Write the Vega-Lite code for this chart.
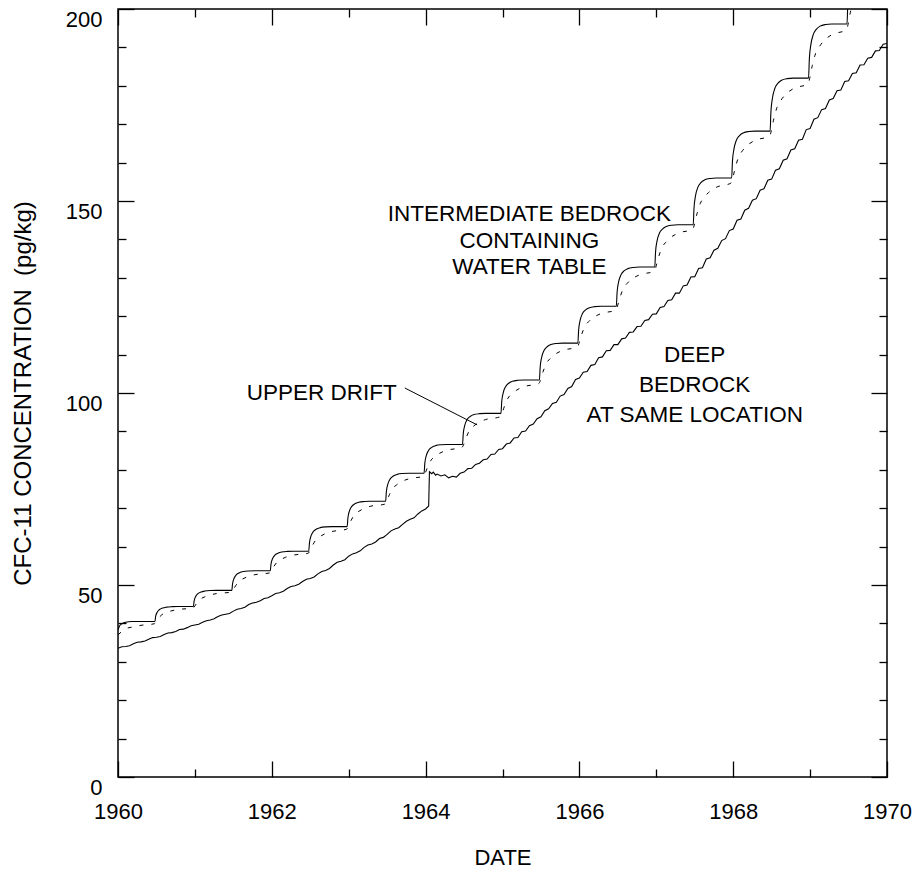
{
  "$schema": "https://vega.github.io/schema/vega-lite/v6.json",
  "width": 769,
  "height": 768,
  "autosize": {"type": "none"},
  "padding": {"left": 118, "top": 9, "right": 26, "bottom": 92},
  "background": "white",
  "config": {
    "view": {"stroke": "black", "strokeWidth": 1.5},
    "axis": {
      "labelFont": "Liberation Sans",
      "titleFont": "Liberation Sans",
      "labelFontSize": 22,
      "titleFontSize": 23,
      "labelColor": "black",
      "titleColor": "black",
      "titleFontWeight": "normal",
      "grid": false,
      "domain": false,
      "tickColor": "black",
      "tickWidth": 1.3,
      "labelOverlap": false
    },
    "text": {"font": "Liberation Sans", "fontSize": 22.5, "color": "black"}
  },
  "datasets": {
    "upper": [
      {"year": 1960.0, "value": 38.3}, {"year": 1960.02, "value": 39.3}, {"year": 1960.05, "value": 39.9}, {"year": 1960.1, "value": 40.3}, {"year": 1960.18, "value": 40.5}, {"year": 1960.48, "value": 40.5},
      {"year": 1960.49, "value": 41.87}, {"year": 1960.51, "value": 42.92}, {"year": 1960.54, "value": 43.62}, {"year": 1960.58, "value": 44.01}, {"year": 1960.63, "value": 44.24}, {"year": 1960.7, "value": 44.36}, {"year": 1960.78, "value": 44.4}, {"year": 1960.98, "value": 44.4},
      {"year": 1960.99, "value": 45.87}, {"year": 1961.01, "value": 47.0}, {"year": 1961.04, "value": 47.76}, {"year": 1961.08, "value": 48.18}, {"year": 1961.13, "value": 48.43}, {"year": 1961.2, "value": 48.56}, {"year": 1961.28, "value": 48.6}, {"year": 1961.48, "value": 48.6},
      {"year": 1961.49, "value": 50.39}, {"year": 1961.51, "value": 51.76}, {"year": 1961.54, "value": 52.68}, {"year": 1961.58, "value": 53.19}, {"year": 1961.63, "value": 53.5}, {"year": 1961.7, "value": 53.65}, {"year": 1961.78, "value": 53.7}, {"year": 1961.98, "value": 53.7},
      {"year": 1961.99, "value": 55.49}, {"year": 1962.01, "value": 56.86}, {"year": 1962.04, "value": 57.78}, {"year": 1962.08, "value": 58.29}, {"year": 1962.13, "value": 58.6}, {"year": 1962.2, "value": 58.75}, {"year": 1962.28, "value": 58.8}, {"year": 1962.48, "value": 58.8},
      {"year": 1962.49, "value": 61.04}, {"year": 1962.51, "value": 62.77}, {"year": 1962.54, "value": 63.92}, {"year": 1962.58, "value": 64.56}, {"year": 1962.63, "value": 64.94}, {"year": 1962.7, "value": 65.14}, {"year": 1962.78, "value": 65.2}, {"year": 1962.98, "value": 65.2},
      {"year": 1962.99, "value": 67.51}, {"year": 1963.01, "value": 69.29}, {"year": 1963.04, "value": 70.48}, {"year": 1963.08, "value": 71.14}, {"year": 1963.13, "value": 71.54}, {"year": 1963.2, "value": 71.73}, {"year": 1963.28, "value": 71.8}, {"year": 1963.48, "value": 71.8},
      {"year": 1963.49, "value": 74.36}, {"year": 1963.51, "value": 76.33}, {"year": 1963.54, "value": 77.64}, {"year": 1963.58, "value": 78.37}, {"year": 1963.63, "value": 78.81}, {"year": 1963.7, "value": 79.03}, {"year": 1963.78, "value": 79.1}, {"year": 1963.98, "value": 79.1},
      {"year": 1963.99, "value": 81.73}, {"year": 1964.01, "value": 83.75}, {"year": 1964.04, "value": 85.1}, {"year": 1964.08, "value": 85.85}, {"year": 1964.13, "value": 86.3}, {"year": 1964.2, "value": 86.53}, {"year": 1964.28, "value": 86.6}, {"year": 1964.48, "value": 86.6},
      {"year": 1964.49, "value": 89.44}, {"year": 1964.51, "value": 91.62}, {"year": 1964.54, "value": 93.08}, {"year": 1964.58, "value": 93.89}, {"year": 1964.63, "value": 94.38}, {"year": 1964.7, "value": 94.62}, {"year": 1964.78, "value": 94.7}, {"year": 1964.98, "value": 94.7},
      {"year": 1964.99, "value": 97.75}, {"year": 1965.01, "value": 100.09}, {"year": 1965.04, "value": 101.66}, {"year": 1965.08, "value": 102.53}, {"year": 1965.13, "value": 103.05}, {"year": 1965.2, "value": 103.31}, {"year": 1965.28, "value": 103.4}, {"year": 1965.48, "value": 103.4},
      {"year": 1965.49, "value": 106.76}, {"year": 1965.51, "value": 109.35}, {"year": 1965.54, "value": 111.08}, {"year": 1965.58, "value": 112.04}, {"year": 1965.63, "value": 112.62}, {"year": 1965.7, "value": 112.9}, {"year": 1965.78, "value": 113.0}, {"year": 1965.98, "value": 113.0},
      {"year": 1965.99, "value": 116.36}, {"year": 1966.01, "value": 118.95}, {"year": 1966.04, "value": 120.68}, {"year": 1966.08, "value": 121.64}, {"year": 1966.13, "value": 122.22}, {"year": 1966.2, "value": 122.5}, {"year": 1966.28, "value": 122.6}, {"year": 1966.48, "value": 122.6},
      {"year": 1966.49, "value": 126.17}, {"year": 1966.51, "value": 128.92}, {"year": 1966.54, "value": 130.76}, {"year": 1966.58, "value": 131.78}, {"year": 1966.63, "value": 132.39}, {"year": 1966.7, "value": 132.7}, {"year": 1966.78, "value": 132.8}, {"year": 1966.98, "value": 132.8},
      {"year": 1966.99, "value": 136.65}, {"year": 1967.01, "value": 139.62}, {"year": 1967.04, "value": 141.6}, {"year": 1967.08, "value": 142.7}, {"year": 1967.13, "value": 143.36}, {"year": 1967.2, "value": 143.69}, {"year": 1967.28, "value": 143.8}, {"year": 1967.48, "value": 143.8},
      {"year": 1967.49, "value": 148.07}, {"year": 1967.51, "value": 151.36}, {"year": 1967.54, "value": 153.56}, {"year": 1967.58, "value": 154.78}, {"year": 1967.63, "value": 155.51}, {"year": 1967.7, "value": 155.88}, {"year": 1967.78, "value": 156.0}, {"year": 1967.98, "value": 156.0},
      {"year": 1967.99, "value": 160.27}, {"year": 1968.01, "value": 163.56}, {"year": 1968.04, "value": 165.76}, {"year": 1968.08, "value": 166.98}, {"year": 1968.13, "value": 167.71}, {"year": 1968.2, "value": 168.08}, {"year": 1968.28, "value": 168.2}, {"year": 1968.48, "value": 168.2},
      {"year": 1968.49, "value": 173.03}, {"year": 1968.51, "value": 176.76}, {"year": 1968.54, "value": 179.24}, {"year": 1968.58, "value": 180.62}, {"year": 1968.63, "value": 181.45}, {"year": 1968.7, "value": 181.86}, {"year": 1968.78, "value": 182.0}, {"year": 1968.98, "value": 182.0},
      {"year": 1968.99, "value": 186.94}, {"year": 1969.01, "value": 190.74}, {"year": 1969.04, "value": 193.28}, {"year": 1969.08, "value": 194.69}, {"year": 1969.13, "value": 195.54}, {"year": 1969.2, "value": 195.96}, {"year": 1969.28, "value": 196.1}, {"year": 1969.48, "value": 196.1},
      {"year": 1969.49, "value": 201.35}, {"year": 1969.51, "value": 205.4}, {"year": 1969.54, "value": 208.1}, {"year": 1969.58, "value": 209.6}, {"year": 1969.63, "value": 210.5}, {"year": 1969.7, "value": 210.95}, {"year": 1969.78, "value": 211.0}, {"year": 1970.0, "value": 211.0}
    ],
    "inter": [
      {"year": 1960.0, "value": 37.0}, {"year": 1960.05, "value": 37.9}, {"year": 1960.1, "value": 38.6}, {"year": 1960.2, "value": 39.1}, {"year": 1960.3, "value": 39.5}, {"year": 1960.47, "value": 39.9},
      {"year": 1960.53, "value": 41.44}, {"year": 1960.57, "value": 42.26}, {"year": 1960.62, "value": 42.76}, {"year": 1960.68, "value": 43.19}, {"year": 1960.78, "value": 43.62}, {"year": 1960.97, "value": 43.97},
      {"year": 1961.03, "value": 45.41}, {"year": 1961.07, "value": 46.29}, {"year": 1961.12, "value": 46.84}, {"year": 1961.18, "value": 47.3}, {"year": 1961.28, "value": 47.76}, {"year": 1961.47, "value": 48.14},
      {"year": 1961.53, "value": 49.82}, {"year": 1961.57, "value": 50.9}, {"year": 1961.62, "value": 51.56}, {"year": 1961.68, "value": 52.12}, {"year": 1961.78, "value": 52.68}, {"year": 1961.97, "value": 53.14},
      {"year": 1962.03, "value": 54.92}, {"year": 1962.07, "value": 56.0}, {"year": 1962.12, "value": 56.66}, {"year": 1962.18, "value": 57.22}, {"year": 1962.28, "value": 57.78}, {"year": 1962.47, "value": 58.24},
      {"year": 1962.53, "value": 60.34}, {"year": 1962.57, "value": 61.68}, {"year": 1962.62, "value": 62.51}, {"year": 1962.68, "value": 63.22}, {"year": 1962.78, "value": 63.92}, {"year": 1962.97, "value": 64.5},
      {"year": 1963.03, "value": 66.78}, {"year": 1963.07, "value": 68.17}, {"year": 1963.12, "value": 69.03}, {"year": 1963.18, "value": 69.75}, {"year": 1963.28, "value": 70.48}, {"year": 1963.47, "value": 71.07},
      {"year": 1963.53, "value": 73.55}, {"year": 1963.57, "value": 75.09}, {"year": 1963.62, "value": 76.03}, {"year": 1963.68, "value": 76.84}, {"year": 1963.78, "value": 77.64}, {"year": 1963.97, "value": 78.3},
      {"year": 1964.03, "value": 80.9}, {"year": 1964.07, "value": 82.48}, {"year": 1964.12, "value": 83.45}, {"year": 1964.18, "value": 84.28}, {"year": 1964.28, "value": 85.1}, {"year": 1964.47, "value": 85.78},
      {"year": 1964.53, "value": 88.54}, {"year": 1964.57, "value": 90.25}, {"year": 1964.62, "value": 91.3}, {"year": 1964.68, "value": 92.19}, {"year": 1964.78, "value": 93.08}, {"year": 1964.97, "value": 93.81},
      {"year": 1965.03, "value": 96.79}, {"year": 1965.07, "value": 98.62}, {"year": 1965.12, "value": 99.75}, {"year": 1965.18, "value": 100.7}, {"year": 1965.28, "value": 101.66}, {"year": 1965.47, "value": 102.44},
      {"year": 1965.53, "value": 105.7}, {"year": 1965.57, "value": 107.72}, {"year": 1965.62, "value": 108.97}, {"year": 1965.68, "value": 110.02}, {"year": 1965.78, "value": 111.08}, {"year": 1965.97, "value": 111.94},
      {"year": 1966.03, "value": 115.3}, {"year": 1966.07, "value": 117.32}, {"year": 1966.12, "value": 118.57}, {"year": 1966.18, "value": 119.62}, {"year": 1966.28, "value": 120.68}, {"year": 1966.47, "value": 121.54},
      {"year": 1966.53, "value": 125.05}, {"year": 1966.57, "value": 127.19}, {"year": 1966.62, "value": 128.52}, {"year": 1966.68, "value": 129.64}, {"year": 1966.78, "value": 130.76}, {"year": 1966.97, "value": 131.68},
      {"year": 1967.03, "value": 135.44}, {"year": 1967.07, "value": 137.75}, {"year": 1967.12, "value": 139.18}, {"year": 1967.18, "value": 140.39}, {"year": 1967.28, "value": 141.6}, {"year": 1967.47, "value": 142.59},
      {"year": 1967.53, "value": 146.73}, {"year": 1967.57, "value": 149.29}, {"year": 1967.62, "value": 150.88}, {"year": 1967.68, "value": 152.22}, {"year": 1967.78, "value": 153.56}, {"year": 1967.97, "value": 154.66},
      {"year": 1968.03, "value": 158.93}, {"year": 1968.07, "value": 161.49}, {"year": 1968.12, "value": 163.08}, {"year": 1968.18, "value": 164.42}, {"year": 1968.28, "value": 165.76}, {"year": 1968.47, "value": 166.86},
      {"year": 1968.53, "value": 171.51}, {"year": 1968.57, "value": 174.41}, {"year": 1968.62, "value": 176.2}, {"year": 1968.68, "value": 177.72}, {"year": 1968.78, "value": 179.24}, {"year": 1968.97, "value": 180.48},
      {"year": 1969.03, "value": 185.38}, {"year": 1969.07, "value": 188.35}, {"year": 1969.12, "value": 190.18}, {"year": 1969.18, "value": 191.73}, {"year": 1969.28, "value": 193.28}, {"year": 1969.47, "value": 194.55},
      {"year": 1969.53, "value": 199.7}, {"year": 1969.57, "value": 202.85}, {"year": 1969.62, "value": 204.8}, {"year": 1969.68, "value": 206.45}, {"year": 1969.78, "value": 208.1}, {"year": 1970.0, "value": 209.5}
    ],
    "deep": [
      {"year": 1960.0, "value": 33.5}, {"year": 1960.05, "value": 33.9}, {"year": 1960.1, "value": 34.0}, {"year": 1960.15, "value": 34.2}, {"year": 1960.2, "value": 34.7}, {"year": 1960.25, "value": 35.1}, {"year": 1960.3, "value": 35.2}, {"year": 1960.35, "value": 35.4}, {"year": 1960.4, "value": 35.9}, {"year": 1960.45, "value": 36.3},
      {"year": 1960.5, "value": 36.4}, {"year": 1960.55, "value": 36.6}, {"year": 1960.6, "value": 37.1}, {"year": 1960.65, "value": 37.5}, {"year": 1960.7, "value": 37.6}, {"year": 1960.75, "value": 37.9}, {"year": 1960.8, "value": 38.4}, {"year": 1960.85, "value": 38.5}, {"year": 1960.9, "value": 38.9}, {"year": 1960.95, "value": 39.4},
      {"year": 1961.0, "value": 39.6}, {"year": 1961.05, "value": 39.8}, {"year": 1961.1, "value": 40.3}, {"year": 1961.15, "value": 40.7}, {"year": 1961.2, "value": 40.9}, {"year": 1961.25, "value": 41.2}, {"year": 1961.3, "value": 41.8}, {"year": 1961.35, "value": 42.2}, {"year": 1961.4, "value": 42.4}, {"year": 1961.45, "value": 42.6},
      {"year": 1961.5, "value": 43.2}, {"year": 1961.55, "value": 43.7}, {"year": 1961.6, "value": 43.9}, {"year": 1961.65, "value": 44.2}, {"year": 1961.7, "value": 44.9}, {"year": 1961.75, "value": 45.3}, {"year": 1961.8, "value": 45.5}, {"year": 1961.85, "value": 45.9}, {"year": 1961.9, "value": 46.5}, {"year": 1961.95, "value": 46.7},
      {"year": 1962.0, "value": 47.2}, {"year": 1962.05, "value": 47.8}, {"year": 1962.1, "value": 48.0}, {"year": 1962.15, "value": 48.4}, {"year": 1962.2, "value": 49.1}, {"year": 1962.25, "value": 49.6}, {"year": 1962.3, "value": 49.8}, {"year": 1962.35, "value": 50.2}, {"year": 1962.4, "value": 50.9}, {"year": 1962.45, "value": 51.5},
      {"year": 1962.5, "value": 51.7}, {"year": 1962.55, "value": 52.1}, {"year": 1962.6, "value": 52.9}, {"year": 1962.65, "value": 53.5}, {"year": 1962.7, "value": 53.8}, {"year": 1962.75, "value": 54.3}, {"year": 1962.8, "value": 55.2}, {"year": 1962.85, "value": 55.9}, {"year": 1962.9, "value": 56.2}, {"year": 1962.95, "value": 56.6},
      {"year": 1963.0, "value": 57.5}, {"year": 1963.05, "value": 58.1}, {"year": 1963.1, "value": 58.4}, {"year": 1963.15, "value": 58.9}, {"year": 1963.2, "value": 59.8}, {"year": 1963.25, "value": 60.4}, {"year": 1963.3, "value": 60.7}, {"year": 1963.35, "value": 61.2}, {"year": 1963.4, "value": 62.1}, {"year": 1963.45, "value": 62.4},
      {"year": 1963.5, "value": 63.2}, {"year": 1963.55, "value": 64.1}, {"year": 1963.6, "value": 64.6}, {"year": 1963.65, "value": 64.9}, {"year": 1963.7, "value": 65.8}, {"year": 1963.75, "value": 66.6}, {"year": 1963.8, "value": 67.1}, {"year": 1963.85, "value": 67.5}, {"year": 1963.9, "value": 68.5}, {"year": 1963.95, "value": 69.3},
      {"year": 1964.0, "value": 69.8}, {"year": 1964.04, "value": 70.6}, {"year": 1964.05, "value": 79.5}, {"year": 1964.08, "value": 79.0}, {"year": 1964.1, "value": 79.4}, {"year": 1964.13, "value": 78.6}, {"year": 1964.15, "value": 78.9}, {"year": 1964.2, "value": 78.4}, {"year": 1964.25, "value": 78.7}, {"year": 1964.3, "value": 77.9}, {"year": 1964.35, "value": 78.3}, {"year": 1964.4, "value": 78.1}, {"year": 1964.45, "value": 79.1},
      {"year": 1964.5, "value": 79.4}, {"year": 1964.55, "value": 80.3}, {"year": 1964.6, "value": 80.4}, {"year": 1964.65, "value": 81.4}, {"year": 1964.7, "value": 81.7}, {"year": 1964.75, "value": 82.6}, {"year": 1964.8, "value": 82.8}, {"year": 1964.85, "value": 84.0}, {"year": 1964.9, "value": 84.1}, {"year": 1964.95, "value": 85.3},
      {"year": 1965.0, "value": 85.5}, {"year": 1965.05, "value": 86.7}, {"year": 1965.1, "value": 87.0}, {"year": 1965.15, "value": 88.3}, {"year": 1965.2, "value": 88.4}, {"year": 1965.25, "value": 89.9}, {"year": 1965.3, "value": 90.1}, {"year": 1965.35, "value": 91.5}, {"year": 1965.4, "value": 91.9}, {"year": 1965.45, "value": 93.3},
      {"year": 1965.5, "value": 93.8}, {"year": 1965.55, "value": 95.4}, {"year": 1965.6, "value": 95.9}, {"year": 1965.65, "value": 97.3}, {"year": 1965.7, "value": 97.6}, {"year": 1965.75, "value": 99.2}, {"year": 1965.8, "value": 99.6}, {"year": 1965.85, "value": 101.2}, {"year": 1965.9, "value": 101.7}, {"year": 1965.95, "value": 103.5},
      {"year": 1966.0, "value": 103.9}, {"year": 1966.05, "value": 105.4}, {"year": 1966.1, "value": 105.6}, {"year": 1966.15, "value": 107.2}, {"year": 1966.2, "value": 107.4}, {"year": 1966.25, "value": 109.2}, {"year": 1966.3, "value": 109.4}, {"year": 1966.35, "value": 111.0}, {"year": 1966.4, "value": 111.1}, {"year": 1966.45, "value": 112.6},
      {"year": 1966.5, "value": 112.6}, {"year": 1966.55, "value": 114.1}, {"year": 1966.6, "value": 114.3}, {"year": 1966.65, "value": 115.8}, {"year": 1966.7, "value": 115.9}, {"year": 1966.75, "value": 117.3}, {"year": 1966.8, "value": 117.4}, {"year": 1966.85, "value": 118.9}, {"year": 1966.9, "value": 119.1}, {"year": 1966.95, "value": 120.5},
      {"year": 1967.0, "value": 120.6}, {"year": 1967.05, "value": 122.3}, {"year": 1967.1, "value": 122.5}, {"year": 1967.15, "value": 124.1}, {"year": 1967.2, "value": 124.3}, {"year": 1967.25, "value": 126.0}, {"year": 1967.3, "value": 126.0}, {"year": 1967.35, "value": 127.9}, {"year": 1967.4, "value": 128.1}, {"year": 1967.45, "value": 130.2},
      {"year": 1967.5, "value": 130.3}, {"year": 1967.55, "value": 132.4}, {"year": 1967.6, "value": 132.6}, {"year": 1967.65, "value": 134.9}, {"year": 1967.7, "value": 135.2}, {"year": 1967.75, "value": 137.2}, {"year": 1967.8, "value": 137.7}, {"year": 1967.85, "value": 139.7}, {"year": 1967.9, "value": 140.2}, {"year": 1967.95, "value": 142.3},
      {"year": 1968.0, "value": 142.7}, {"year": 1968.05, "value": 145.0}, {"year": 1968.1, "value": 145.3}, {"year": 1968.15, "value": 147.6}, {"year": 1968.2, "value": 148.1}, {"year": 1968.25, "value": 150.2}, {"year": 1968.3, "value": 150.6}, {"year": 1968.35, "value": 152.8}, {"year": 1968.4, "value": 153.2}, {"year": 1968.45, "value": 155.4},
      {"year": 1968.5, "value": 155.7}, {"year": 1968.55, "value": 158.0}, {"year": 1968.6, "value": 158.4}, {"year": 1968.65, "value": 160.6}, {"year": 1968.7, "value": 161.0}, {"year": 1968.75, "value": 163.3}, {"year": 1968.8, "value": 163.6}, {"year": 1968.85, "value": 165.8}, {"year": 1968.9, "value": 166.1}, {"year": 1968.95, "value": 168.6},
      {"year": 1969.0, "value": 168.9}, {"year": 1969.05, "value": 171.3}, {"year": 1969.1, "value": 171.7}, {"year": 1969.15, "value": 173.8}, {"year": 1969.2, "value": 174.1}, {"year": 1969.25, "value": 176.3}, {"year": 1969.3, "value": 176.7}, {"year": 1969.35, "value": 178.7}, {"year": 1969.4, "value": 178.9}, {"year": 1969.45, "value": 181.1},
      {"year": 1969.5, "value": 181.3}, {"year": 1969.55, "value": 183.2}, {"year": 1969.6, "value": 183.4}, {"year": 1969.65, "value": 185.4}, {"year": 1969.7, "value": 185.5}, {"year": 1969.75, "value": 187.2}, {"year": 1969.8, "value": 187.4}, {"year": 1969.85, "value": 189.1}, {"year": 1969.9, "value": 189.2}, {"year": 1969.95, "value": 190.8},
      {"year": 1970.0, "value": 191.0}
    ],
    "labels": [
      {"year": 1965.35, "value": 146.6, "label": "INTERMEDIATE BEDROCK"},
      {"year": 1965.35, "value": 139.7, "label": "CONTAINING"},
      {"year": 1965.35, "value": 132.8, "label": "WATER TABLE"},
      {"year": 1962.65, "value": 100.0, "label": "UPPER DRIFT"},
      {"year": 1967.5, "value": 109.9, "label": "DEEP"},
      {"year": 1967.5, "value": 102.1, "label": "BEDROCK"},
      {"year": 1967.5, "value": 94.3, "label": "AT SAME LOCATION"}
    ],
    "leader": [
      {"year": 1963.73, "value": 101.3, "year2": 1964.67, "value2": 91.7}
    ]
  },
  "layer": [
    {
      "data": {"name": "upper"},
      "mark": {"type": "line", "interpolate": "monotone", "color": "black", "strokeWidth": 1.1, "clip": true},
      "encoding": {
        "x": {"field": "year", "type": "quantitative",
          "scale": {"domain": [1960, 1970], "nice": false, "zero": false},
          "axis": {"orient": "bottom", "ticks": false, "values": [1960, 1962, 1964, 1966, 1968, 1970], "format": "d", "labelPadding": 24, "labelFlush": false,
            "title": "DATE", "titleY": 80, "titleBaseline": "middle", "titleFontSize": 22}},
        "y": {"field": "value", "type": "quantitative",
          "scale": {"domain": [0, 200], "nice": false, "zero": true},
          "axis": {"orient": "left", "ticks": false, "values": [0, 50, 100, 150, 200], "labelPadding": 16, "labelBaseline": "top",
            "title": "CFC-11 CONCENTRATION \u00a0(pg/kg)", "titleX": -95, "titleY": 384, "titleAngle": 270, "titleAlign": "center", "titleBaseline": "middle", "titleFontSize": 24}}
      }
    },
    {
      "data": {"name": "inter"},
      "mark": {"type": "line", "interpolate": "monotone", "color": "black", "strokeWidth": 1, "strokeDash": [4, 8], "clip": true},
      "encoding": {
        "x": {"field": "year", "type": "quantitative",
          "scale": {"domain": [1960, 1970], "nice": false, "zero": false},
          "axis": {"orient": "bottom", "labels": false, "title": null, "tickSize": -16, "values": [1960, 1962, 1964, 1966, 1968, 1970]}},
        "y": {"field": "value", "type": "quantitative",
          "scale": {"domain": [0, 200], "nice": false, "zero": true},
          "axis": {"orient": "left", "labels": false, "title": null, "tickSize": -16, "values": [0, 50, 100, 150, 200]}}
      }
    },
    {
      "data": {"name": "deep"},
      "mark": {"type": "line", "interpolate": "linear", "color": "black", "strokeWidth": 1.1, "clip": true},
      "encoding": {
        "x": {"field": "year", "type": "quantitative",
          "scale": {"domain": [1960, 1970], "nice": false, "zero": false},
          "axis": {"orient": "bottom", "labels": false, "title": null, "tickSize": -8, "values": [1961, 1963, 1965, 1967, 1969]}},
        "y": {"field": "value", "type": "quantitative",
          "scale": {"domain": [0, 200], "nice": false, "zero": true},
          "axis": {"orient": "left", "labels": false, "title": null, "tickSize": -8, "values": [10, 20, 30, 40, 60, 70, 80, 90, 110, 120, 130, 140, 160, 170, 180, 190]}}
      }
    },
    {
      "data": {"name": "labels"},
      "mark": {"type": "text", "align": "center", "baseline": "middle", "font": "Liberation Sans", "fontSize": 22.5, "color": "black"},
      "encoding": {
        "x": {"field": "year", "type": "quantitative",
          "scale": {"domain": [1960, 1970], "nice": false, "zero": false},
          "axis": {"orient": "top", "labels": false, "title": null, "tickSize": -16, "values": [1960, 1962, 1964, 1966, 1968, 1970]}},
        "y": {"field": "value", "type": "quantitative",
          "scale": {"domain": [0, 200], "nice": false, "zero": true},
          "axis": {"orient": "right", "labels": false, "title": null, "tickSize": -16, "values": [0, 50, 100, 150, 200]}},
        "text": {"field": "label"}
      }
    },
    {
      "data": {"name": "leader"},
      "mark": {"type": "rule", "color": "black", "strokeWidth": 1},
      "encoding": {
        "x": {"field": "year", "type": "quantitative",
          "scale": {"domain": [1960, 1970], "nice": false, "zero": false},
          "axis": {"orient": "top", "labels": false, "title": null, "tickSize": -8, "values": [1961, 1963, 1965, 1967, 1969]}},
        "y": {"field": "value", "type": "quantitative",
          "scale": {"domain": [0, 200], "nice": false, "zero": true},
          "axis": {"orient": "right", "labels": false, "title": null, "tickSize": -8, "values": [10, 20, 30, 40, 60, 70, 80, 90, 110, 120, 130, 140, 160, 170, 180, 190]}},
        "x2": {"field": "year2"},
        "y2": {"field": "value2"}
      }
    }
  ],
  "resolve": {"axis": {"x": "independent", "y": "independent"}}
}
